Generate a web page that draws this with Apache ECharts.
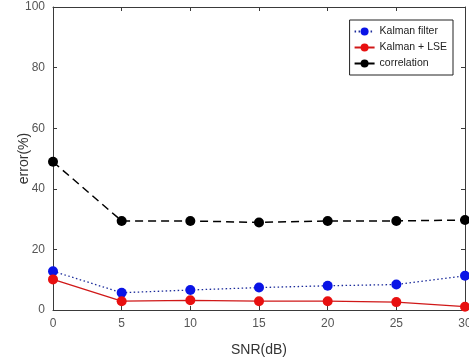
<!DOCTYPE html>
<html><head><meta charset="utf-8">
<script src="https://cdn.jsdelivr.net/npm/echarts@6/dist/echarts.min.js"></script>
<style>html,body{margin:0;padding:0;background:#fff;}#c{width:469px;height:361px;}</style>
</head><body><div id="c"></div>
<script>
const snr = [0, 5, 10, 15, 20, 25, 30];
const kalmanFilter = [12.8, 5.7, 6.6, 7.4, 8.0, 8.4, 11.3];
const kalmanLSE = [10.1, 2.9, 3.2, 2.9, 2.9, 2.6, 1.1];
const correlation = [48.9, 29.4, 29.4, 28.9, 29.4, 29.4, 29.7];
const seriesNames = ['Kalman filter', 'Kalman + LSE', 'correlation'];
const xTitle = 'SNR(dB)';
const yTitle = 'error(%)';

const pair = arr => snr.map((x, i) => [x, arr[i]]);
const axisCol = '#3a3a3a';
const labelStyle = {color: '#555', fontFamily: 'Arial, Liberation Sans, sans-serif', fontSize: 12};
const tick = {show: true, inside: true, length: 4, lineStyle: {color: axisCol}};
const chart = echarts.init(document.getElementById('c'));
chart.setOption({
  animation: false,
  backgroundColor: '#fff',
  grid: {left: 53, right: 4, top: 7, bottom: 51, containLabel: false, outerBoundsMode: 'none'},
  legend: {
    orient: 'vertical', right: 16, top: 20,
    data: seriesNames,
    borderColor: '#222', borderWidth: 1, backgroundColor: '#fff', borderRadius: 0,
    padding: [6, 6, 6, 4], itemGap: 5, itemWidth: 20, itemHeight: 10,
    textStyle: {fontFamily: 'Arial, Liberation Sans, sans-serif', fontSize: 10.5, color: '#222'}
  },
  xAxis: [{
    type: 'value', min: 0, max: 30, interval: 5,
    name: xTitle, nameLocation: 'middle', nameGap: 33, nameMoveOverlap: false,
    nameTextStyle: {fontFamily: 'Arial, Liberation Sans, sans-serif', fontSize: 14, color: '#333'},
    axisLine: {lineStyle: {color: axisCol}}, axisTick: tick,
    axisLabel: Object.assign({margin: 8}, labelStyle), splitLine: {show: false}
  }, {
    type: 'value', min: 0, max: 30, interval: 5, position: 'top',
    axisLine: {show: true, onZero: false, lineStyle: {color: axisCol}}, axisTick: tick,
    axisLabel: {show: false}, splitLine: {show: false}
  }],
  yAxis: [{
    type: 'value', min: 0, max: 100, interval: 20, position: 'left',
    name: yTitle, nameLocation: 'middle', nameGap: 22, nameMoveOverlap: false,
    nameTextStyle: {fontFamily: 'Arial, Liberation Sans, sans-serif', fontSize: 14, color: '#333'},
    axisLine: {show: true, lineStyle: {color: axisCol}}, axisTick: tick,
    axisLabel: Object.assign({margin: 8}, labelStyle), splitLine: {show: false}
  }, {
    type: 'value', min: 0, max: 100, interval: 20, position: 'right',
    axisLine: {show: true, onZero: false, lineStyle: {color: axisCol}}, axisTick: tick,
    axisLabel: {show: false}, splitLine: {show: false}
  }],
  series: [
    {name: seriesNames[0], type: 'line', data: pair(kalmanFilter), symbol: 'circle', symbolSize: 10,
     itemStyle: {color: '#0a14e6'}, lineStyle: {color: '#1a2a9a', width: 1.3, type: [1.5, 2.5]}},
    {name: seriesNames[1], type: 'line', data: pair(kalmanLSE), symbol: 'circle', symbolSize: 10,
     itemStyle: {color: '#e81010'}, lineStyle: {color: '#d01818', width: 1.3, type: 'solid'}},
    {name: seriesNames[2], type: 'line', data: pair(correlation), symbol: 'circle', symbolSize: 10,
     itemStyle: {color: '#000'}, lineStyle: {color: '#000', width: 1.5, type: [8, 5]}}
  ]
});
</script></body></html>
